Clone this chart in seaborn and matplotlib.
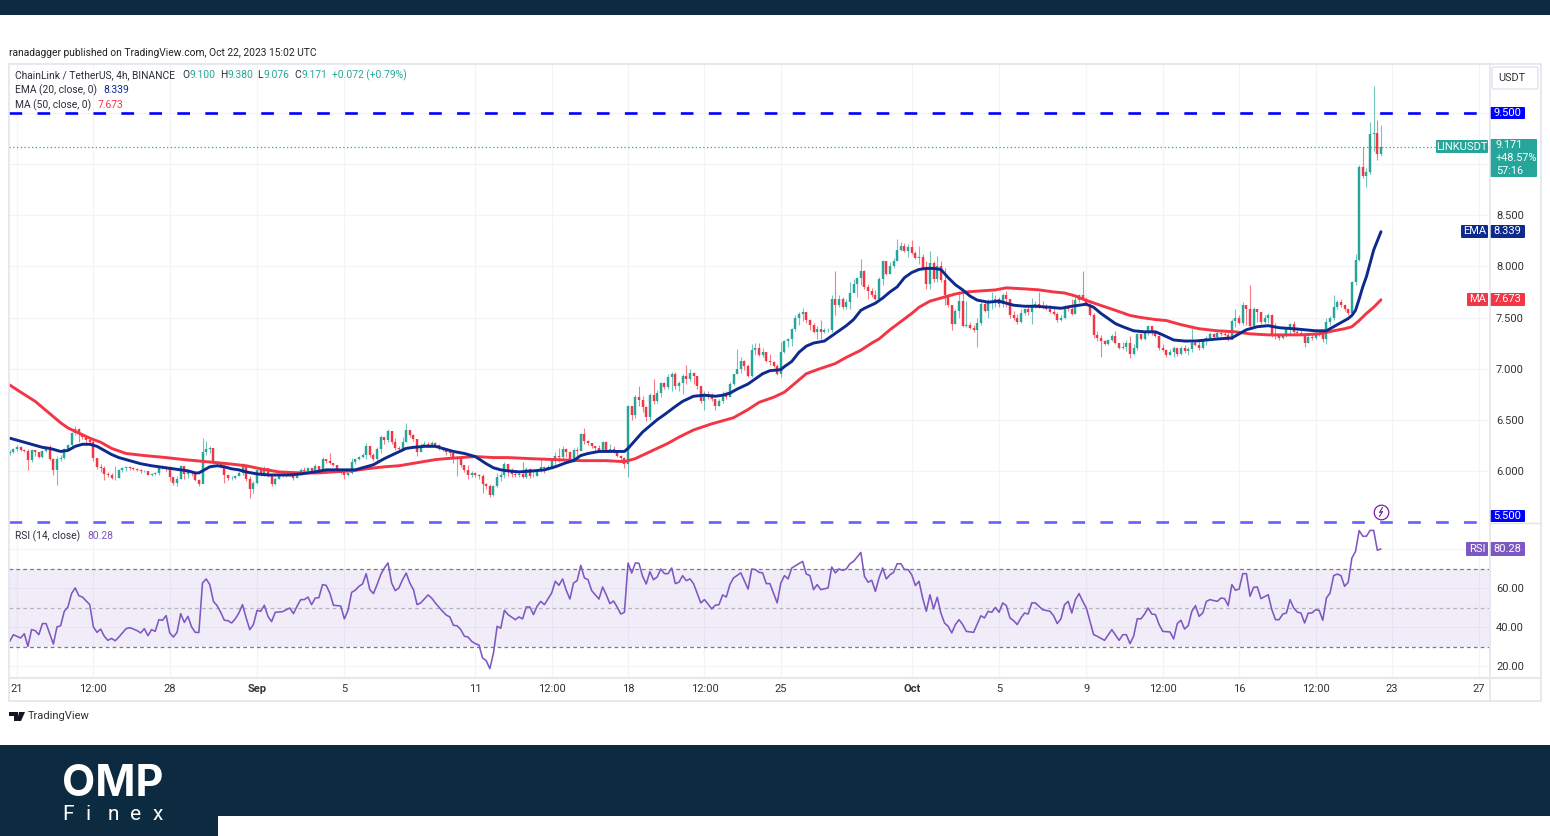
import numpy as np
import pandas as pd
import matplotlib
matplotlib.use("Agg")
import matplotlib.pyplot as plt
from matplotlib.patches import Rectangle, FancyBboxPatch, Polygon
import seaborn as sns

sns.set_theme(style="white")
plt.rcParams['font.family'] = ['Roboto', 'DejaVu Sans']

W, H = 1550, 836

# 4h candles, first bar Aug 20 16:00
closes = [
    6.18,6.21,6.23,6.20,6.19,6.11,6.20,6.18,6.14,6.19,
    6.21,6.12,6.01,6.12,6.13,6.21,6.25,6.37,6.41,6.36,
    6.33,6.30,6.28,6.13,6.04,6.03,5.97,5.96,5.93,5.93,
    6.01,6.03,6.04,6.03,6.02,6.01,6.00,6.00,5.96,5.97,
    5.98,6.04,6.04,6.03,5.94,5.88,5.92,6.05,5.97,5.99,
    5.98,5.91,5.87,6.18,6.21,6.22,6.08,6.07,6.05,5.96,
    5.93,5.93,5.95,5.98,6.06,5.92,5.82,5.88,6.01,5.97,
    6.03,5.96,5.87,5.92,5.96,5.97,5.96,5.98,5.93,5.97,
    6.01,6.00,6.03,6.00,6.05,6.00,6.12,6.10,6.08,6.06,
    6.01,5.99,5.96,5.98,6.09,6.12,6.14,6.16,6.24,6.16,
    6.12,6.21,6.33,6.30,6.39,6.28,6.22,6.21,6.28,6.40,
    6.35,6.31,6.18,6.24,6.26,6.25,6.27,6.25,6.22,6.20,
    6.18,6.17,6.12,6.13,6.06,6.01,5.96,5.98,5.96,5.95,
    5.87,5.85,5.76,5.85,5.94,5.96,6.07,6.00,5.97,5.96,
    5.97,5.94,6.02,5.95,5.95,6.00,6.04,6.03,6.04,6.10,
    6.15,6.14,6.21,6.18,6.12,6.20,6.19,6.36,6.29,6.27,
    6.24,6.22,6.19,6.28,6.20,6.21,6.18,6.15,6.13,6.07,
    6.63,6.55,6.72,6.69,6.62,6.53,6.74,6.68,6.76,6.86,
    6.82,6.92,6.95,6.83,6.86,6.93,6.90,6.96,6.93,6.83,
    6.68,6.74,6.72,6.70,6.63,6.68,6.75,6.72,6.85,6.95,
    7.00,7.07,7.03,6.93,7.18,7.20,7.13,7.16,7.07,7.06,
    7.03,6.95,7.16,7.27,7.29,7.39,7.50,7.53,7.55,7.48,
    7.43,7.36,7.39,7.36,7.38,7.38,7.68,7.62,7.68,7.60,
    7.65,7.74,7.83,7.89,7.95,7.80,7.76,7.72,7.68,7.88,
    8.05,7.93,8.00,8.05,8.16,8.20,8.15,8.19,8.13,8.08,
    8.09,7.98,7.83,8.03,7.88,8.00,7.87,7.72,7.62,7.44,
    7.56,7.66,7.42,7.43,7.40,7.38,7.45,7.63,7.56,7.65,
    7.66,7.68,7.63,7.72,7.68,7.52,7.50,7.46,7.54,7.58,
    7.55,7.60,7.63,7.60,7.59,7.58,7.55,7.53,7.48,7.50,
    7.60,7.58,7.53,7.67,7.72,7.68,7.62,7.52,7.33,7.30,
    7.27,7.24,7.28,7.32,7.25,7.20,7.21,7.25,7.14,7.20,
    7.34,7.29,7.36,7.42,7.35,7.32,7.20,7.18,7.13,7.16,
    7.20,7.14,7.20,7.17,7.19,7.25,7.23,7.20,7.27,7.30,
    7.34,7.31,7.35,7.34,7.33,7.28,7.47,7.50,7.45,7.62,
    7.58,7.42,7.58,7.55,7.46,7.50,7.52,7.33,7.32,7.30,
    7.33,7.41,7.44,7.36,7.35,7.34,7.25,7.31,7.30,7.35,
    7.34,7.29,7.46,7.50,7.60,7.65,7.62,7.58,7.54,7.85,
    8.06,8.97,8.88,8.92,9.29,9.30,9.10,9.171]
highs = [
    6.20,6.22,6.25,6.24,6.21,6.21,6.21,6.20,6.18,6.20,
    6.22,6.25,6.13,6.15,6.16,6.22,6.26,6.38,6.44,6.42,
    6.36,6.33,6.31,6.30,6.13,6.07,6.05,5.99,5.98,6.05,
    6.02,6.04,6.05,6.05,6.04,6.03,6.02,6.01,6.00,5.98,
    5.99,6.05,6.06,6.05,6.05,5.94,5.95,6.06,6.05,6.01,
    6.00,5.98,5.92,6.32,6.29,6.24,6.21,6.09,6.08,6.06,
    5.97,5.95,5.96,6.00,6.08,6.05,5.95,5.90,6.02,6.03,
    6.05,6.02,5.96,5.94,5.97,5.98,5.98,6.00,5.98,5.98,
    6.03,6.04,6.04,6.03,6.07,6.05,6.14,6.12,6.17,6.08,
    6.06,6.01,6.01,5.99,6.13,6.13,6.15,6.17,6.27,6.22,
    6.17,6.23,6.35,6.33,6.41,6.39,6.32,6.24,6.33,6.47,
    6.40,6.36,6.31,6.27,6.29,6.28,6.29,6.28,6.26,6.23,
    6.20,6.19,6.16,6.15,6.13,6.06,6.06,6.00,5.99,5.97,
    5.97,5.88,5.87,5.86,5.98,5.99,6.09,6.04,6.03,6.01,
    6.00,6.09,6.04,6.03,6.01,6.02,6.12,6.05,6.06,6.12,
    6.18,6.22,6.24,6.22,6.19,6.22,6.23,6.37,6.42,6.30,
    6.27,6.24,6.25,6.29,6.29,6.26,6.24,6.20,6.16,6.14,
    6.64,6.63,6.74,6.83,6.73,6.63,6.76,6.90,6.79,6.87,
    6.87,6.95,6.97,6.97,6.88,6.95,7.04,7.00,6.97,6.90,
    6.80,6.78,6.78,6.76,6.70,6.70,6.78,6.78,6.87,6.95,
    7.19,7.11,7.08,7.05,7.24,7.25,7.25,7.20,7.16,7.14,
    7.07,7.05,7.26,7.28,7.30,7.40,7.52,7.55,7.59,7.55,
    7.49,7.45,7.42,7.48,7.40,7.40,7.72,7.95,7.72,7.70,
    7.68,7.85,7.88,7.90,8.07,7.96,7.83,7.79,7.77,7.90,
    8.06,8.05,8.04,8.08,8.27,8.24,8.23,8.22,8.26,8.15,
    8.20,8.12,8.05,8.15,8.05,8.10,8.05,7.98,7.73,7.62,
    7.58,7.76,7.74,7.66,7.46,7.43,7.50,7.65,7.65,7.68,
    7.75,7.72,7.70,7.74,7.76,7.68,7.56,7.53,7.58,7.59,
    7.62,7.69,7.66,7.75,7.66,7.63,7.62,7.60,7.55,7.52,
    7.62,7.62,7.68,7.70,7.73,7.95,7.70,7.65,7.54,7.37,
    7.33,7.28,7.29,7.34,7.37,7.25,7.26,7.28,7.32,7.24,
    7.35,7.35,7.38,7.43,7.41,7.37,7.33,7.24,7.19,7.19,
    7.22,7.19,7.22,7.23,7.21,7.40,7.28,7.27,7.29,7.32,
    7.36,7.35,7.37,7.36,7.38,7.37,7.49,7.58,7.52,7.65,
    7.60,7.82,7.60,7.58,7.55,7.52,7.54,7.53,7.45,7.33,
    7.34,7.41,7.45,7.47,7.41,7.38,7.35,7.33,7.34,7.39,
    7.37,7.34,7.50,7.51,7.72,7.67,7.68,7.63,7.59,7.86,
    8.12,8.99,9.17,8.96,9.41,9.76,9.43,9.38]
lows = [
    6.16,6.17,6.19,6.19,6.18,6.01,6.09,6.15,6.13,6.13,
    6.18,6.11,5.96,5.86,6.10,6.12,6.20,6.24,6.35,6.28,
    6.31,6.27,6.25,6.10,6.02,5.99,5.91,5.94,5.92,5.91,
    5.93,5.99,6.00,6.01,6.01,6.00,5.98,5.99,5.96,5.95,
    5.96,5.96,6.02,6.00,5.90,5.86,5.85,5.92,5.92,5.93,
    5.95,5.90,5.85,5.88,6.16,6.17,6.07,6.05,6.03,5.88,
    5.91,5.91,5.92,5.95,5.96,5.90,5.73,5.78,5.87,5.95,
    5.95,5.94,5.85,5.86,5.92,5.94,5.94,5.95,5.91,5.93,
    5.96,5.98,5.99,5.98,5.98,5.98,6.00,6.08,6.07,6.05,
    5.99,5.97,5.92,5.95,5.97,6.07,6.11,6.13,6.12,6.14,
    6.10,6.10,6.17,6.26,6.28,6.26,6.20,6.19,6.20,6.28,
    6.33,6.29,6.15,6.18,6.23,6.23,6.24,6.23,6.20,6.19,
    6.16,6.15,6.08,5.95,6.04,5.99,5.92,5.94,5.94,5.92,
    5.78,5.82,5.74,5.75,5.84,5.90,5.93,5.95,5.94,5.94,
    5.94,5.93,5.93,5.93,5.94,5.95,5.99,5.98,6.01,6.02,
    6.05,6.09,6.11,6.14,6.11,6.09,6.12,6.20,6.26,6.25,
    6.22,6.20,6.18,6.18,6.18,6.19,6.17,6.14,6.11,6.03,
    5.94,6.50,6.52,6.63,6.58,6.49,6.50,6.65,6.66,6.72,
    6.80,6.80,6.78,6.80,6.78,6.75,6.85,6.88,6.85,6.80,
    6.66,6.60,6.70,6.68,6.60,6.63,6.66,6.70,6.73,6.84,
    6.95,6.96,6.99,6.92,6.92,7.13,7.12,7.11,7.06,7.04,
    7.02,6.94,6.92,7.15,7.21,7.22,7.37,7.43,7.47,7.45,
    7.38,7.35,7.29,7.29,7.35,7.36,7.36,7.52,7.60,7.58,
    7.58,7.58,7.75,7.70,7.82,7.78,7.68,7.70,7.67,7.67,
    7.82,7.92,7.93,7.98,8.05,8.15,8.14,8.09,8.12,8.07,
    8.02,7.97,7.78,7.78,7.85,7.85,7.85,7.62,7.60,7.38,
    7.44,7.50,7.41,7.41,7.39,7.36,7.21,7.43,7.55,7.50,
    7.58,7.60,7.60,7.60,7.60,7.50,7.48,7.44,7.45,7.52,
    7.52,7.44,7.59,7.59,7.58,7.57,7.54,7.52,7.46,7.47,
    7.49,7.56,7.52,7.53,7.65,7.67,7.61,7.51,7.30,7.27,
    7.11,7.23,7.23,7.27,7.24,7.19,7.19,7.17,7.10,7.13,
    7.18,7.28,7.28,7.33,7.33,7.31,7.18,7.17,7.11,7.13,
    7.11,7.12,7.13,7.15,7.13,7.16,7.22,7.18,7.19,7.23,
    7.29,7.30,7.30,7.32,7.32,7.27,7.29,7.41,7.44,7.43,
    7.43,7.40,7.44,7.46,7.44,7.44,7.45,7.31,7.29,7.28,
    7.29,7.31,7.33,7.34,7.34,7.33,7.21,7.25,7.28,7.29,
    7.32,7.26,7.24,7.43,7.48,7.58,7.60,7.56,7.52,7.53,
    7.82,8.05,8.86,8.78,8.90,9.13,9.04,9.076]
first_open = 6.17

# (bar, value) pairs
ema_curve = [
    (0,6.32),(3,6.29),(6,6.26),(9,6.23),(11,6.22),(14,6.19),(16,6.20),(18,6.24),(20,6.26),(22,6.26),
    (24,6.24),(26,6.20),(28,6.16),(30,6.13),(33,6.10),(36,6.07),(39,6.05),(41,6.04),(45,6.02),(49,6.00),
    (51,5.98),(52,5.98),(53,6.00),(55,6.04),(57,6.05),(59,6.04),(61,6.02),(63,6.01),(65,5.99),(68,5.97),
    (71,5.96),(74,5.96),(77,5.96),(80,5.97),(84,5.99),(87,6.01),(91,6.01),(95,6.01),(98,6.04),(100,6.06),
    (103,6.12),(106,6.17),(109,6.22),(111,6.23),(114,6.24),(117,6.24),(120,6.21),(122,6.19),(125,6.17),(128,6.14),
    (131,6.07),(133,6.03),(135,6.01),(137,6.00),(140,5.99),(144,6.00),(147,6.01),(150,6.04),(153,6.08),(155,6.10),
    (157,6.15),(159,6.17),(162,6.19),(165,6.19),(169,6.19),(170,6.22),(171,6.26),(172,6.30),(174,6.38),(176,6.44),
    (178,6.50),(180,6.55),(183,6.63),(185,6.68),(188,6.73),(191,6.74),(194,6.73),(196,6.74),(198,6.76),(200,6.80),
    (203,6.85),(205,6.90),(207,6.95),(209,6.98),(212,6.99),(213,7.02),(215,7.07),(217,7.16),(219,7.22),(221,7.25),
    (224,7.27),(226,7.32),(228,7.37),(230,7.42),(232,7.48),(234,7.57),(235,7.59),(238,7.64),(240,7.69),(242,7.75),
    (244,7.80),(246,7.89),(248,7.94),(250,7.97),(252,7.98),(254,7.98),(256,7.97),(258,7.89),(260,7.82),(262,7.77),
    (264,7.71),(266,7.67),(269,7.65),(272,7.66),(276,7.62),(279,7.61),(282,7.61),(286,7.60),(289,7.59),(292,7.61),
    (296,7.63),(298,7.60),(300,7.54),(302,7.49),(304,7.44),(306,7.41),(309,7.37),(312,7.36),(315,7.36),(317,7.33),
    (320,7.28),(323,7.27),(326,7.27),(329,7.28),(332,7.29),(336,7.30),(338,7.34),(340,7.38),(343,7.41),(346,7.42),
    (349,7.40),(353,7.39),(356,7.38),(359,7.37),(362,7.37),(364,7.41),(366,7.45),(368,7.49),(369,7.52),(370,7.57),
    (371,7.68),(372,7.80),(373,7.90),(374,8.03),(375,8.16),(376,8.25),(377,8.339)]
ma_curve = [
    (0,6.84),(3,6.77),(7,6.68),(10,6.59),(14,6.47),(16,6.42),(19,6.37),(22,6.32),(25,6.28),(28,6.22),
    (32,6.17),(37,6.15),(43,6.13),(48,6.11),(54,6.09),(60,6.07),(65,6.05),(69,6.02),(74,5.99),(80,5.98),
    (85,5.98),(89,5.99),(94,6.00),(98,6.02),(103,6.04),(107,6.05),(112,6.08),(117,6.11),(120,6.12),(124,6.13),
    (128,6.14),(133,6.13),(137,6.13),(143,6.12),(150,6.11),(157,6.10),(164,6.10),(169,6.09),(170,6.10),(172,6.12),
    (175,6.17),(178,6.22),(181,6.27),(184,6.33),(188,6.40),(193,6.46),(199,6.52),(203,6.60),(206,6.67),(210,6.72),
    (213,6.77),(216,6.86),(219,6.95),(222,6.99),(227,7.05),(230,7.11),(234,7.18),(237,7.25),(239,7.29),(242,7.38),
    (245,7.46),(248,7.54),(250,7.60),(253,7.66),(257,7.70),(260,7.73),(263,7.75),(267,7.76),(271,7.77),(274,7.79),
    (279,7.78),(283,7.77),(287,7.75),(290,7.74),(293,7.71),(295,7.68),(299,7.63),(304,7.57),(308,7.52),(311,7.50),
    (315,7.48),(318,7.47),(322,7.43),(327,7.39),(332,7.37),(337,7.36),(341,7.34),(346,7.33),(350,7.33),(355,7.33),
    (360,7.34),(364,7.37),(367,7.39),(369,7.41),(371,7.47),(373,7.54),(375,7.60),(377,7.673)]

rsi_bars = [0,1,3,4,5,6,7,8,9,10,12,13,14,15,16,17,18,19,20,22,23,24,25,26,27,28,29,30,32,33,34,35,36,37,38,39,
            40,41,42,43,44,45,46,47,48,49,50,51,52,53,54,55,56,57,58,59,60,61,62,63,64,65,66,67,68,69,70,71,72,
            73,75,77,78,79,80,81,82,83,84,85,86,87,88,89,90,91,92,93,94,95,96,97,98,99,100,101,102,103,104,105,
            106,107,108,109,110,111,112,113,115,116,117,119,120,121,122,123,124,125,126,127,128,129,130,131,132,
            133,134,135,136,137,139,140,141,142,143,144,145,146,147,149,150,151,152,153,154,155,156,157,158,159,
            160,162,163,164,165,166,167,168,169,170,171,172,173,174,175,176,177,178,179,180,181,182,183,184,185,
            186,187,188,190,191,192,193,194,195,196,197,198,199,201,203,204,205,206,207,208,209,211,212,213,214,
            215,218,219,220,221,222,223,225,226,227,228,229,230,231,232,234,235,236,237,238,239,240,241,242,243,
            244,245,246,247,248,249,250,251,252,253,254,255,256,257,258,259,260,261,262,263,265,267,268,269,270,
            271,272,273,274,275,276,277,278,279,280,281,282,284,286,287,288,289,290,291,292,293,294,295,296,298,
            299,301,303,305,306,307,308,309,310,311,312,313,314,315,316,317,319,320,321,322,323,324,325,326,327,
            328,329,330,331,332,333,334,335,336,337,338,339,340,341,342,343,344,346,347,348,349,350,351,352,353,354,
            355,356,357,358,359,360,361,362,363,364,365,366,367,368,369,370,371,372,373,374,375,376,377]
rsi_vals = [32.9,36.3,34.6,36.8,30.3,38.9,38.4,36.3,42.0,42.0,31.5,40.3,40.9,48.3,50.5,57.4,60.3,56.3,55.6,51.7,
            40.3,37.5,39.2,35.5,33.4,34.4,33.2,35.1,39.4,39.9,39.2,38.4,37.2,39.4,35.8,38.9,38.0,44.0,43.7,46.1,
            37.2,35.1,37.5,47.1,42.6,45.7,40.3,37.5,37.4,62.8,64.9,62.0,53.4,51.2,47.8,43.7,43.5,42.3,44.4,47.4,
            51.7,44.9,38.9,41.5,48.8,48.3,51.4,45.7,43.0,47.8,48.1,50.0,47.1,50.9,54.3,54.3,55.6,51.7,55.1,55.3,
            62.0,61.6,57.7,51.4,51.2,51.0,44.4,48.8,58.0,59.1,61.1,62.3,67.6,59.4,57.4,62.0,67.1,70.5,73.1,62.8,
            58.9,60.3,64.5,67.9,62.8,59.4,51.7,52.6,56.7,55.1,52.6,48.3,46.4,45.4,41.1,40.9,38.9,35.5,35.1,32.9,
            31.7,31.0,24.4,23.0,18.9,26.9,40.6,39.6,48.8,46.6,44.0,45.4,44.4,50.5,50.5,46.6,50.9,53.4,51.7,57.7,
            63.7,61.6,64.9,59.1,54.6,62.8,64.0,71.9,65.4,64.5,58.9,54.6,60.8,56.8,52.2,53.6,50.5,46.9,47.8,73.1,
            67.9,73.1,72.9,66.2,62.3,68.6,64.5,65.9,70.0,67.6,67.6,70.5,62.5,63.2,66.6,64.0,64.9,62.5,52.6,54.3,
            52.0,49.5,51.4,51.7,56.7,55.6,62.0,65.4,68.0,59.7,70.0,69.7,68.3,68.0,62.5,62.5,52.6,62.8,66.6,64.9,
            70.5,73.9,67.4,66.6,59.4,62.0,59.4,60.3,71.0,68.0,70.0,69.3,70.0,72.7,73.9,78.5,66.2,63.2,64.2,58.5,
            65.4,70.5,64.9,67.0,68.3,72.7,72.7,69.7,69.7,67.0,61.5,63.7,55.0,48.3,56.8,49.5,55.5,47.4,42.3,40.6,
            37.2,41.5,44.0,41.5,38.0,37.5,46.0,44.9,48.3,47.8,50.3,47.8,52.6,51.2,44.9,43.5,41.5,44.9,47.4,46.9,
            52.6,52.6,49.1,48.3,46.0,42.0,44.4,51.7,53.4,47.4,54.3,57.4,53.4,50.0,36.3,35.5,33.4,38.9,33.4,36.3,
            36.3,31.7,35.5,44.5,44.4,46.9,50.0,46.9,46.6,41.5,38.0,37.7,34.1,42.0,43.7,39.2,40.9,48.3,51.2,45.7,
            47.4,53.4,54.3,53.8,53.4,55.1,54.8,51.2,62.0,59.1,59.7,67.6,67.6,56.0,60.6,60.8,54.8,56.8,49.1,44.0,
            44.0,46.9,47.4,54.3,50.0,47.9,47.4,42.3,47.4,47.4,49.1,48.8,43.7,55.1,57.7,66.6,67.4,66.6,61.1,63.2,
            75.6,79.0,89.7,86.8,86.8,89.8,89.8,79.6,80.28]

price_ticks = [6.0, 6.5, 7.0, 7.5, 8.0, 8.5, 9.0, 9.5]
price_labels = ["6.000", "6.500", "7.000", "7.500", "8.000", "8.500", "", ""]
rsi_ticks = [20, 40, 60, 80]
rsi_labels = ["20.00", "40.00", "60.00", ""]
time_ticks = ["2023-08-21", "2023-08-24 12:00", "2023-08-28", "2023-09-01", "2023-09-05", "2023-09-11",
              "2023-09-14 12:00", "2023-09-18", "2023-09-21 12:00", "2023-09-25", "2023-10-01", "2023-10-05",
              "2023-10-09", "2023-10-12 12:00", "2023-10-16", "2023-10-19 12:00", "2023-10-23", "2023-10-27"]
time_labels = ["21", "12:00", "28", "Sep", "5", "11", "12:00", "18", "12:00", "25", "Oct", "5", "9",
               "12:00", "16", "12:00", "23", "27"]

GREEN, RED = "#26a69a", "#f23645"
NAVY, LINE_RED = "#0d2a8e", "#f23645"
PURPLE = "#7e57c2"
BANNER = "#0c2b40"
GRID = "#f3f4f8"
BORDER = "#e0e3eb"
TXT = "#2a2e39"


def px_rect(l, t, r, b):
    return [l / W, 1 - b / H, (r - l) / W, (b - t) / H]


df = pd.DataFrame({"close": closes, "high": highs, "low": lows})
df["open"] = [first_open] + closes[:-1]
df["bar"] = np.arange(len(df))
up = df["close"] >= df["open"]
start = pd.Timestamp("2023-08-20 16:00")
tick_pos = [(pd.Timestamp(t) - start) / pd.Timedelta(hours=4) for t in time_ticks]

fig = plt.figure(figsize=(W / 100, H / 100), dpi=100, facecolor="white")
ax_rsi = fig.add_axes(px_rect(9, 522, 1489, 677))
ax = fig.add_axes(px_rect(9, 63, 1489, 522), zorder=3)
ov = fig.add_axes([0, 0, 1, 1], zorder=10)
ov.set_xlim(0, W)
ov.set_ylim(H, 0)
ov.axis("off")
ov.patch.set_alpha(0)

XMIN, XMAX = -0.2, 406.7
for a in (ax, ax_rsi):
    a.set_xlim(XMIN, XMAX)
    a.set_xticks(tick_pos)
    a.grid(True, color=GRID, lw=0.9)
    a.set_axisbelow(True)
    a.tick_params(length=0)
    a.set_xticklabels([])
    for s in a.spines.values():
        s.set_visible(False)

# candles
ax.set_ylim(5.5, 9.989)
ax.set_yticks(price_ticks)
ax.yaxis.tick_right()
ax.set_yticklabels(price_labels, fontsize=8, color="#333333")
ax.tick_params(axis="y", pad=5)
for mask, col in ((up, GREEN), (~up, RED)):
    d = df[mask]
    ax.vlines(d["bar"], d["low"], d["high"], color=col, lw=0.8, alpha=0.65, capstyle="butt", zorder=2)
    ax.vlines(d["bar"], d["open"], d["close"], color=col, lw=1.75, capstyle="butt", zorder=3)

ema_x, ema_y = zip(*ema_curve)
ma_x, ma_y = zip(*ma_curve)
sns.lineplot(x=list(ema_x), y=list(ema_y), ax=ax, color=NAVY, lw=2.1, zorder=5, errorbar=None)
sns.lineplot(x=list(ma_x), y=list(ma_y), ax=ax, color=LINE_RED, lw=2.1, zorder=4, errorbar=None)
ax.set_xlabel("")
ax.set_ylabel("")

# levels
ax.axhline(closes[-1], color="#1fa89a", lw=0.9, ls=(0, (1, 2)), zorder=1)
ax.axhline(9.5, color="#0000ff", lw=1.9, ls=(0, (4.8, 5.8)), zorder=6)
ax.axhline(5.5, color="#3a3aff", lw=1.9, ls=(0, (4.8, 5.8)), zorder=6, clip_on=False, alpha=0.8)

# RSI pane
ax_rsi.set_ylim(14.6, 94.1)
ax_rsi.set_yticks(rsi_ticks)
ax_rsi.yaxis.tick_right()
ax_rsi.set_yticklabels(rsi_labels, fontsize=8, color="#333333")
ax_rsi.tick_params(axis="y", pad=5)
ax_rsi.axhspan(30, 70, color=PURPLE, alpha=0.1, lw=0, zorder=1)
for lev, c in ((70, "#787b86"), (50, "#b2b5be"), (30, "#787b86")):
    ax_rsi.axhline(lev, color=c, lw=0.9, ls=(0, (3, 2.5)), zorder=2)
sns.lineplot(x=rsi_bars, y=rsi_vals, ax=ax_rsi, color=PURPLE, lw=1.15, zorder=4, errorbar=None)
ax_rsi.set_xlabel("")
ax_rsi.set_ylabel("")

# frame and strips
ov.add_patch(Rectangle((8.5, 63.5), 1532, 637, fill=False, ec=BORDER, lw=1.1))
ov.plot([1489.5, 1489.5], [63, 701], color=BORDER, lw=1.1)
ov.plot([1489, 1541], [522.5, 522.5], color=BORDER, lw=1.0)
ov.plot([9, 1541], [677.5, 677.5], color="#e6e8ee", lw=1.6)

# time labels
for pos, lab in zip(tick_pos, time_labels):
    xp = 9 + (pos - XMIN) * (1489 - 9) / (XMAX - XMIN)
    bold = lab in ("Sep", "Oct")
    ov.text(xp, 689, lab, ha="center", va="center", fontsize=8, color="#333333",
            fontweight="bold" if bold else "normal")

# banners
ov.add_patch(Rectangle((0, 0), W, 15, fc=BANNER, ec="none"))
ov.add_patch(Rectangle((0, 745), W, 91, fc=BANNER, ec="none"))
ov.add_patch(Rectangle((218, 816), W - 218, 20, fc="white", ec="none"))
ov.text(113, 785, "OMP", color="white", ha="center", va="center", fontsize=31, fontweight="bold", family="Inter")
for xp, ch in zip((68, 88, 113, 136, 158), "Finex"):
    ov.text(xp, 814.5, ch, color="white", ha="center", va="center", fontsize=15)

# headers
ov.text(9, 52.5, "ranadagger published on TradingView.com, Oct 22, 2023 15:02 UTC", fontsize=7.4, color="#222222",
        va="center")
ov.text(15, 75.5, "ChainLink / TetherUS, 4h, BINANCE", fontsize=7.4, color=TXT, va="center")
for xp, s, c in ((182, "O", TXT), (189, "9.100", GREEN), (220, "H", TXT), (227, "9.380", GREEN), (257, "L", TXT),
                 (264, "9.076", GREEN), (294, "C", TXT), (301, "9.171", GREEN), (332, "+0.072 (+0.79%)", GREEN)):
    ov.text(xp, 75.5, s, fontsize=7.4, color=c, va="center")
ov.text(15, 90, "EMA (20, close, 0)", fontsize=7.4, color=TXT, va="center")
ov.text(103, 90, "8.339", fontsize=7.4, color=NAVY, va="center")
ov.text(15, 105, "MA (50, close, 0)", fontsize=7.4, color=TXT, va="center")
ov.text(98, 105, "7.673", fontsize=7.4, color=RED, va="center")
ov.text(15, 536, "RSI (14, close)", fontsize=7.4, color=TXT, va="center")
ov.text(87, 536, "80.28", fontsize=7.4, color=PURPLE, va="center")


def tag(l, t, r, b, col, lines, fs=8, left=None):
    ov.add_patch(FancyBboxPatch((l + 1, t + 1), r - l - 2, b - t - 2, boxstyle="round,pad=1", fc=col, ec="none"))
    step = (b - t) / len(lines)
    for k, s in enumerate(lines):
        if left is None:
            ov.text((l + r) / 2, t + step * (k + 0.5), s, color="white", ha="center", va="center", fontsize=fs)
        else:
            ov.text(left, t + step * (k + 0.5), s, color="white", ha="left", va="center", fontsize=fs)


tag(1490, 107, 1525, 119, "#0000ff", ["9.500"])
tag(1490, 510, 1525, 522, "#0000ff", ["5.500"])
tag(1436, 140, 1488, 153, GREEN, ["LINKUSDT"])
tag(1490, 139, 1537, 177, GREEN, ["9.171", "+48.57%", "57:16"], fs=7.8, left=1496)
tag(1461, 225, 1488, 238, NAVY, ["EMA"])
tag(1490, 225, 1525, 238, NAVY, ["8.339"])
tag(1467, 293, 1488, 306, RED, ["MA"])
tag(1490, 293, 1525, 306, RED, ["7.673"])
tag(1466, 542, 1488, 556, PURPLE, ["RSI"])
tag(1490, 542, 1525, 556, PURPLE, ["80.28"])

ov.add_patch(FancyBboxPatch((1494, 69), 42, 18, boxstyle="round,pad=2", fc="white", ec=BORDER, lw=1))
ov.text(1512, 78, "USDT", fontsize=7.8, color="#333333", ha="center", va="center")

# lightning marker above the RSI pane
ov.plot([1381], [512], marker="o", ms=10.5, mfc="white", mec="#7b1fa2", mew=0.9)
ov.plot([1382.5, 1379.5, 1382.5, 1379.5], [507.5, 512.5, 511.5, 516.5], color="#7b1fa2", lw=0.8)

# TradingView logo
ov.add_patch(Polygon([(9, 712), (18, 712), (18, 721), (14, 721), (14, 716), (9, 716)], fc="#131722", ec="none"))
ov.add_patch(Polygon([(19, 712), (25, 712), (21, 721), (17, 721)], fc="#131722", ec="none"))
ov.text(28, 716, "TradingView", fontsize=8, color="#333333", va="center")

fig.savefig("out.png", dpi=100)
